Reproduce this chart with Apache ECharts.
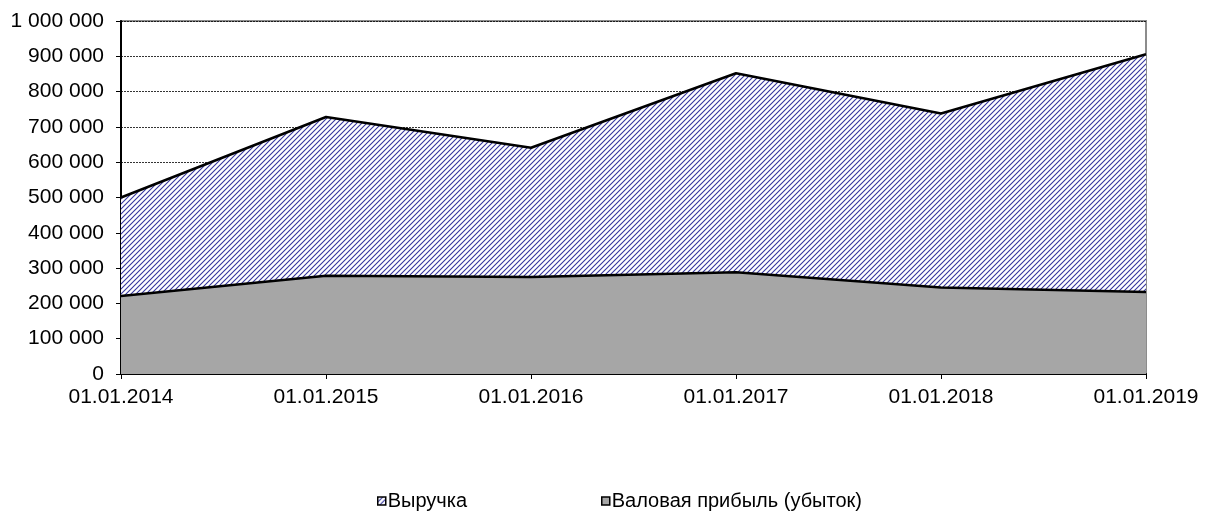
<!DOCTYPE html>
<html lang="ru">
<head>
  <meta charset="UTF-8" />
  <title>Выручка и валовая прибыль</title>
  <script src="https://cdn.jsdelivr.net/npm/echarts@6/dist/echarts.min.js"></script>
  <style>
    html, body { margin: 0; padding: 0; background: #fff; }
    #main { width: 1207px; height: 513px; }
  </style>
</head>
<body>
  <div id="main"></div>
  <script type="text/javascript">
    // данные графика
    var dates = ['01.01.2014', '01.01.2015', '01.01.2016', '01.01.2017', '01.01.2018', '01.01.2019'];
    var revenue = [500000, 728000, 641000, 852000, 738000, 906000];
    var grossProfit = [221000, 278000, 275000, 288000, 245000, 232000];
    var seriesNames = ['Выручка', 'Валовая прибыль (убыток)'];

    // штриховка для выручки
    function makeHatch() {
      var c = document.createElement('canvas');
      c.width = 5;
      c.height = 5;
      var ctx = c.getContext('2d');
      ctx.fillStyle = '#ffffff';
      ctx.fillRect(0, 0, 5, 5);
      ctx.strokeStyle = '#35359e';
      ctx.lineWidth = 1.1;
      ctx.beginPath();
      ctx.moveTo(-1, 6); ctx.lineTo(6, -1);
      ctx.moveTo(-4, 4); ctx.lineTo(4, -4);
      ctx.moveTo(1, 9); ctx.lineTo(9, 1);
      ctx.stroke();
      return c;
    }
    var hatch = { image: makeHatch(), repeat: 'repeat' };

    function fmt(v) {
      return String(v).replace(/\B(?=(\d{3})+(?!\d))/g, ' ');
    }

    var font = 'Liberation Sans, Arial, sans-serif';
    var myChart = echarts.init(document.getElementById('main'));
    var option = {
      animation: false,
      textStyle: { fontFamily: font },
      grid: {
        left: 121, right: 61, top: 21, bottom: 139,
        show: true, borderColor: '#8c8c8c', borderWidth: 2, backgroundColor: '#fff'
      },
      legend: [
        {
          left: 372, top: 486,
          icon: 'rect', itemWidth: 8, itemHeight: 8, itemGap: 0,
          textStyle: { fontSize: 20, color: '#000', fontFamily: font, padding: [0, 0, 0, -3] },
          data: [{ name: seriesNames[0], itemStyle: { color: hatch, borderColor: '#000', borderWidth: 1.5 } }]
        },
        {
          left: 596, top: 486,
          icon: 'rect', itemWidth: 8, itemHeight: 8, itemGap: 0,
          textStyle: { fontSize: 20, color: '#000', fontFamily: font, padding: [0, 0, 0, -3] },
          data: [{ name: seriesNames[1], itemStyle: { color: '#a6a6a6', borderColor: '#000', borderWidth: 1.5 } }]
        }
      ],
      xAxis: {
        type: 'category',
        data: dates,
        boundaryGap: false,
        axisLine: { lineStyle: { color: '#000', width: 2 } },
        axisTick: { show: true, length: 5, lineStyle: { color: '#000' } },
        axisLabel: { fontSize: 21, color: '#000', margin: 13, fontFamily: font }
      },
      yAxis: {
        type: 'value',
        min: 0, max: 1000000, interval: 100000,
        axisLine: { show: true, lineStyle: { color: '#000', width: 2 } },
        axisTick: { show: true, length: 5, lineStyle: { color: '#000' } },
        axisLabel: { fontSize: 21, color: '#000', margin: 17, fontFamily: font, formatter: fmt },
        splitLine: { lineStyle: { color: '#000', type: [2, 1], width: 0.8 } }
      },
      series: [
        {
          name: seriesNames[0],
          type: 'line',
          data: revenue,
          symbol: 'none',
          lineStyle: { color: '#000', width: 2.5 },
          itemStyle: { color: hatch },
          areaStyle: { color: hatch, opacity: 1 },
          z: 2
        },
        {
          name: seriesNames[1],
          type: 'line',
          data: grossProfit,
          symbol: 'none',
          lineStyle: { color: '#000', width: 2.5 },
          itemStyle: { color: '#a6a6a6' },
          areaStyle: { color: '#a6a6a6', opacity: 1 },
          z: 3
        }
      ]
    };
    myChart.setOption(option);
  </script>
</body>
</html>
